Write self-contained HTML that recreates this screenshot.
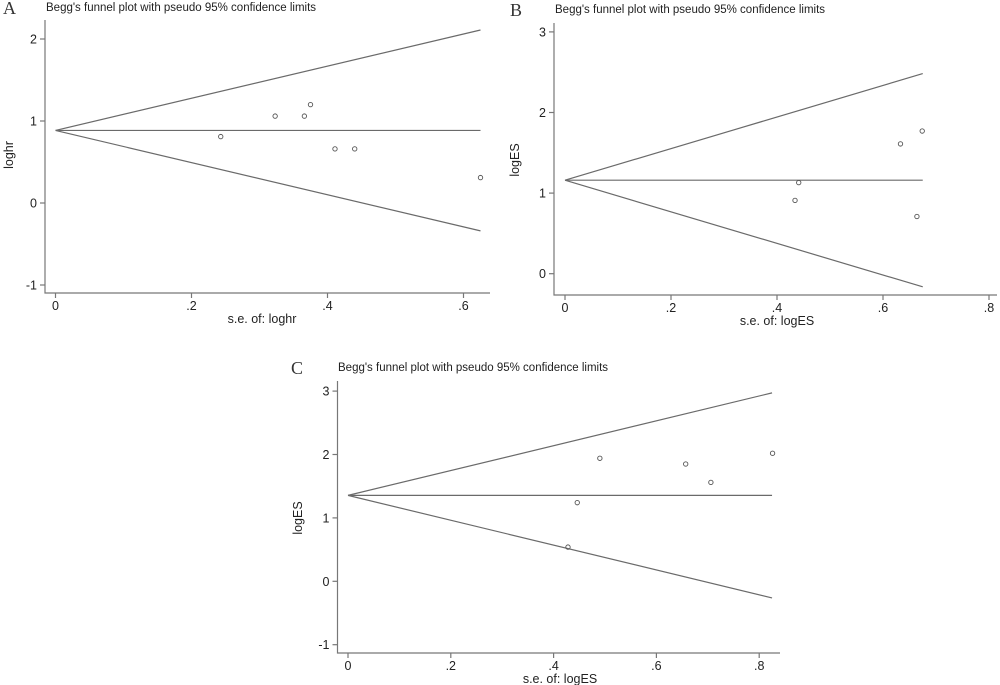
<!DOCTYPE html>
<html><head><meta charset="utf-8">
<style>
html,body{margin:0;padding:0;background:#fff;}
svg{display:block;font-family:"Liberation Sans",Arial,sans-serif;}
</style></head>
<body>
<svg id="fig" width="1000" height="685" viewBox="0 0 1000 685" xmlns="http://www.w3.org/2000/svg"></svg>
<script>
// Panel A data
const aSe = [0.243, 0.323, 0.366, 0.375, 0.411, 0.44, 0.625];
const aEs = [0.81, 1.06, 1.06, 1.20, 0.66, 0.66, 0.31];
const aCenter = 0.885, aSeMax = 0.625;
const aXTicks = [0, 0.2, 0.4, 0.6];
const aXLabels = ["0", ".2", ".4", ".6"];
const aYTicks = [-1, 0, 1, 2];
// Panel B data
const bSe = [0.434, 0.441, 0.633, 0.674, 0.664];
const bEs = [0.91, 1.13, 1.61, 1.77, 0.71];
const bCenter = 1.16, bSeMax = 0.675;
const bXTicks = [0, 0.2, 0.4, 0.6, 0.8];
const bXLabels = ["0", ".2", ".4", ".6", ".8"];
const bYTicks = [0, 1, 2, 3];
// Panel C data
const cSe = [0.428, 0.446, 0.49, 0.657, 0.706, 0.826];
const cEs = [0.54, 1.24, 1.94, 1.85, 1.56, 2.02];
const cCenter = 1.355, cSeMax = 0.825;
const cXTicks = [0, 0.2, 0.4, 0.6, 0.8];
const cXLabels = ["0", ".2", ".4", ".6", ".8"];
const cYTicks = [-1, 0, 1, 2, 3];

const NS = "http://www.w3.org/2000/svg";
const svg = document.getElementById('fig');
function mk(tag, attrs, parent) {
  const e = document.createElementNS(NS, tag);
  for (const k in attrs) e.setAttribute(k, attrs[k]);
  (parent || svg).appendChild(e);
  return e;
}
function panel(p) {
  const g = mk('g', {});
  
  
  const sx = v => p.x0 + v * p.xs;
  const sy = v => p.y0 - v * p.ys;
  const L = mk('text', {x: p.letterX, y: p.titleY + 3, 'font-family': '"Liberation Serif",serif', 'font-size': 18, fill: '#333'}, g);
  L.textContent = p.letter;
  
  
  const t = mk('text', {x: p.titleX, y: p.titleY, 'font-size': 11.5, fill: '#222'}, g);
  t.textContent = "Begg's funnel plot with pseudo 95% confidence limits";
  
  
  const ax = mk('path', {d: `M${p.axL},${p.axT}V${p.axB}H${p.axR}`, stroke: '#777', 'stroke-width': 1.2, fill: 'none'}, g);
  
  
  p.yTicks.forEach(v => {
    const y = sy(v);
    const tk = mk('line', {x1: p.axL - 5, x2: p.axL, y1: y, y2: y, stroke: '#777', 'stroke-width': 1.2}, g);
    
    
    const tl = mk('text', {x: p.axL - 8, y: y + 4.5, 'text-anchor': 'end', 'font-size': 12.5, fill: '#222'}, g);
    tl.textContent = String(v);
    
    
  });
  p.xTicks.forEach((v, i) => {
    const x = sx(v);
    const tk = mk('line', {x1: x, x2: x, y1: p.axB, y2: p.axB + 5, stroke: '#777', 'stroke-width': 1.2}, g);
    
    
    const tl = mk('text', {x: x, y: p.axB + 17, 'text-anchor': 'middle', 'font-size': 12.5, fill: '#222'}, g);
    tl.textContent = p.xLabels[i];
    
    
  });
  const xl = mk('text', {x: p.xLabelX, y: p.axB + 30, 'text-anchor': 'middle', 'font-size': 12.5, fill: '#222'}, g);
  xl.textContent = p.xTitle;
  
  
  const yl = mk('text', {x: 0, y: 0, 'text-anchor': 'middle', 'font-size': 12.5, fill: '#222', transform: `translate(${p.yLabelX},${p.yLabelY}) rotate(-90)`}, g);
  yl.textContent = p.yTitle;
  
  
  const x0 = sx(0), x1 = sx(p.seMax), yc = sy(p.center);
  const upper = mk('line', {x1: x0, y1: yc, x2: x1, y2: sy(p.center + 1.96 * p.seMax), stroke: '#6a6a6a', 'stroke-width': 1.2}, g);
  
  
  const lower = mk('line', {x1: x0, y1: yc, x2: x1, y2: sy(p.center - 1.96 * p.seMax), stroke: '#6a6a6a', 'stroke-width': 1.2}, g);
  
  
  const mid = mk('line', {x1: x0, y1: yc, x2: x1, y2: yc, stroke: '#6a6a6a', 'stroke-width': 1.2}, g);
  
  
  p.se.forEach((s, i) => {
    const c = mk('circle', {cx: sx(s), cy: sy(p.es[i]), r: 2.2, fill: 'none', stroke: '#555', 'stroke-width': 0.9}, g);
    
    
  });
}
panel({id: 'a', letter: 'A', letterX: 3, titleX: 46, titleY: 11, x0: 55.5, xs: 680, y0: 203, ys: 82,
  axL: 45, axR: 490, axT: 20, axB: 293, xTicks: aXTicks, xLabels: aXLabels, yTicks: aYTicks,
  se: aSe, es: aEs, center: aCenter, seMax: aSeMax, xTitle: 's.e. of: loghr', yTitle: 'loghr',
  xLabelX: 262, yLabelX: 13, yLabelY: 155});
panel({id: 'b', letter: 'B', letterX: 510, titleX: 555, titleY: 13, x0: 565, xs: 530, y0: 273.7, ys: 80.6,
  axL: 554, axR: 997, axT: 23, axB: 295, xTicks: bXTicks, xLabels: bXLabels, yTicks: bYTicks,
  se: bSe, es: bEs, center: bCenter, seMax: bSeMax, xTitle: 's.e. of: logES', yTitle: 'logES',
  xLabelX: 777, yLabelX: 519, yLabelY: 160});
panel({id: 'c', letter: 'C', letterX: 291, titleX: 338, titleY: 371, x0: 348, xs: 514, y0: 581.3, ys: 63.4,
  axL: 337.5, axR: 780, axT: 381, axB: 653, xTicks: cXTicks, xLabels: cXLabels, yTicks: cYTicks,
  se: cSe, es: cEs, center: cCenter, seMax: cSeMax, xTitle: 's.e. of: logES', yTitle: 'logES',
  xLabelX: 560, yLabelX: 302, yLabelY: 518});
</script>
</body></html>
